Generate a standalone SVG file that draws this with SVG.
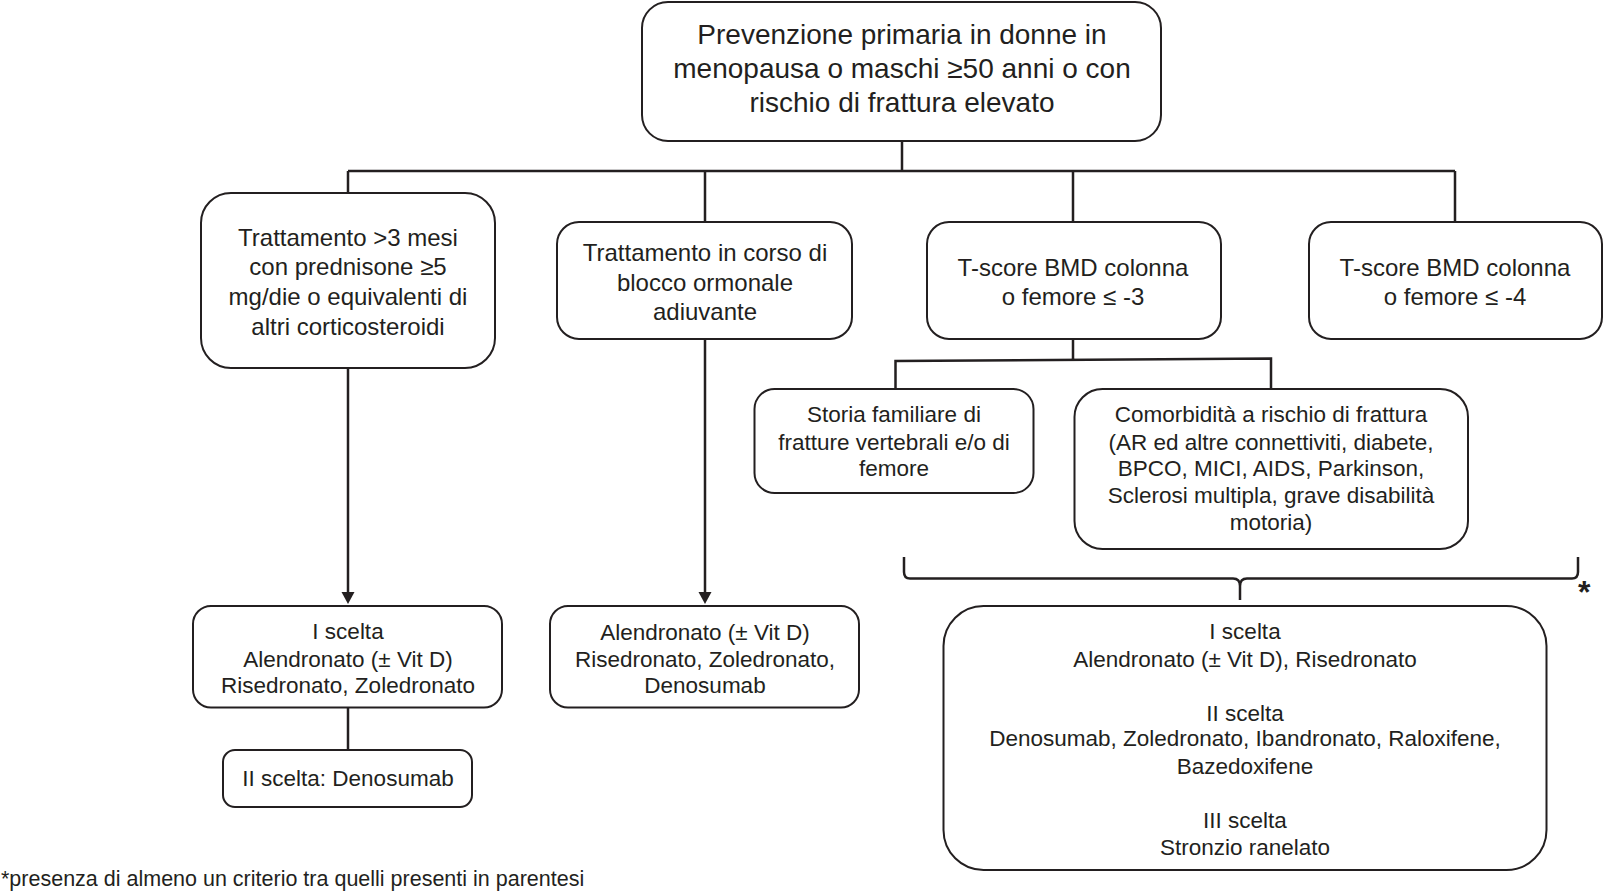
<svg xmlns="http://www.w3.org/2000/svg" width="1603" height="894" viewBox="0 0 1603 894">
<style>
.box{fill:#fff;stroke:#231f20;stroke-width:2}
.t{font-family:"Liberation Sans",Arial,sans-serif;fill:#231f20;text-anchor:middle}
.f28{font-size:28px}.f24{font-size:24px}.f22{font-size:22.5px}
.ln{fill:none;stroke:#231f20;stroke-width:2.5}
</style>
<rect width="1603" height="894" fill="#fff"/>
<g id="connectors">
<path class="ln" d="M902,141 V171 M348,171 H1455 M348,171 V193 M705,171 V222 M1073,171 V222 M1455,171 V222"/>
<path class="ln" d="M1073,339 V360 M895.5,389 V361 L1271,358.5 V389"/>
<path class="ln" d="M348,368 V596"/>
<path d="M341.5,592 L354.5,592 L348,604 Z" fill="#231f20"/>
<path class="ln" d="M705,339 V596"/>
<path d="M698.5,592 L711.5,592 L705,604 Z" fill="#231f20"/>
<path class="ln" d="M348,707.5 V750"/>
<path class="ln" d="M904,557 V572 Q904,578.5 910,578.5 H1233 Q1240,578.5 1240,586 V600 M1240,586 Q1240,578.5 1247,578.5 H1572 Q1578,578.5 1578,572 V557"/>
</g>
<g id="n-top">
<rect class="box" x="642" y="2" width="519" height="139" rx="26"/>
<text class="t f28" x="902" y="44">Prevenzione primaria in donne in</text>
<text class="t f28" x="902" y="78">menopausa o maschi ≥50 anni o con</text>
<text class="t f28" x="902" y="112">rischio di frattura elevato</text>
</g>
<g id="n-cortico">
<rect class="box" x="201" y="193" width="294" height="175" rx="30"/>
<text class="t f24" x="348" y="245.5">Trattamento &gt;3 mesi</text>
<text class="t f24" x="348" y="275">con prednisone ≥5</text>
<text class="t f24" x="348" y="305">mg/die o equivalenti di</text>
<text class="t f24" x="348" y="334.5">altri corticosteroidi</text>
</g>
<g id="n-blocco">
<rect class="box" x="557" y="222" width="295" height="117" rx="22"/>
<text class="t f24" x="705" y="261">Trattamento in corso di</text>
<text class="t f24" x="705" y="290.5">blocco ormonale</text>
<text class="t f24" x="705" y="320">adiuvante</text>
</g>
<g id="n-tscore3">
<rect class="box" x="927" y="222" width="294" height="117" rx="22"/>
<text class="t f24" x="1073" y="276.3">T-score BMD colonna</text>
<text class="t f24" x="1073" y="305">o femore ≤ -3</text>
</g>
<g id="n-tscore4">
<rect class="box" x="1309" y="222" width="293" height="117" rx="22"/>
<text class="t f24" x="1455" y="276.3">T-score BMD colonna</text>
<text class="t f24" x="1455" y="305">o femore ≤ -4</text>
</g>
<g id="n-storia">
<rect class="box" x="754.5" y="389" width="279" height="104" rx="20"/>
<text class="t f22" x="894" y="422">Storia familiare di</text>
<text class="t f22" x="894" y="449.5">fratture vertebrali e/o di</text>
<text class="t f22" x="894" y="476">femore</text>
</g>
<g id="n-comorb">
<rect class="box" x="1074.5" y="389" width="393.5" height="160" rx="28"/>
<text class="t f22" x="1271" y="422">Comorbidità a rischio di frattura</text>
<text class="t f22" x="1271" y="449.5">(AR ed altre connettiviti, diabete,</text>
<text class="t f22" x="1271" y="476">BPCO, MICI, AIDS, Parkinson,</text>
<text class="t f22" x="1271" y="503">Sclerosi multipla, grave disabilità</text>
<text class="t f22" x="1271" y="529.5">motoria)</text>
</g>
<g id="n-scelta1">
<rect class="box" x="193" y="606" width="309" height="101.5" rx="18"/>
<text class="t f22" x="348" y="639">I scelta</text>
<text class="t f22" x="348" y="666.5">Alendronato (± Vit D)</text>
<text class="t f22" x="348" y="693">Risedronato, Zoledronato</text>
</g>
<g id="n-scelta2">
<rect class="box" x="223" y="750" width="249" height="57" rx="12"/>
<text class="t f22" x="348" y="786">II scelta: Denosumab</text>
</g>
<g id="n-blocco-ther">
<rect class="box" x="550" y="606" width="309" height="101.5" rx="18"/>
<text class="t f22" x="705" y="639.5">Alendronato (± Vit D)</text>
<text class="t f22" x="705" y="666.5">Risedronato, Zoledronato,</text>
<text class="t f22" x="705" y="693">Denosumab</text>
</g>
<g id="n-tscore-ther">
<rect class="box" x="943.5" y="606" width="603" height="264" rx="40"/>
<text class="t f22" x="1245" y="639">I scelta</text>
<text class="t f22" x="1245" y="666.5">Alendronato (± Vit D), Risedronato</text>
<text class="t f22" x="1245" y="720.5">II scelta</text>
<text class="t f22" x="1245" y="746">Denosumab, Zoledronato, Ibandronato, Raloxifene,</text>
<text class="t f22" x="1245" y="773.5">Bazedoxifene</text>
<text class="t f22" x="1245" y="828">III scelta</text>
<text class="t f22" x="1245" y="854.5">Stronzio ranelato</text>
</g>
<text x="1578" y="603" style="font-family:'Liberation Sans',Arial,sans-serif;font-size:32px;font-weight:bold;fill:#231f20">*</text>
<text x="1" y="886" style="font-family:'Liberation Sans',Arial,sans-serif;font-size:21.5px;fill:#231f20">*presenza di almeno un criterio tra quelli presenti in parentesi</text>
</svg>
